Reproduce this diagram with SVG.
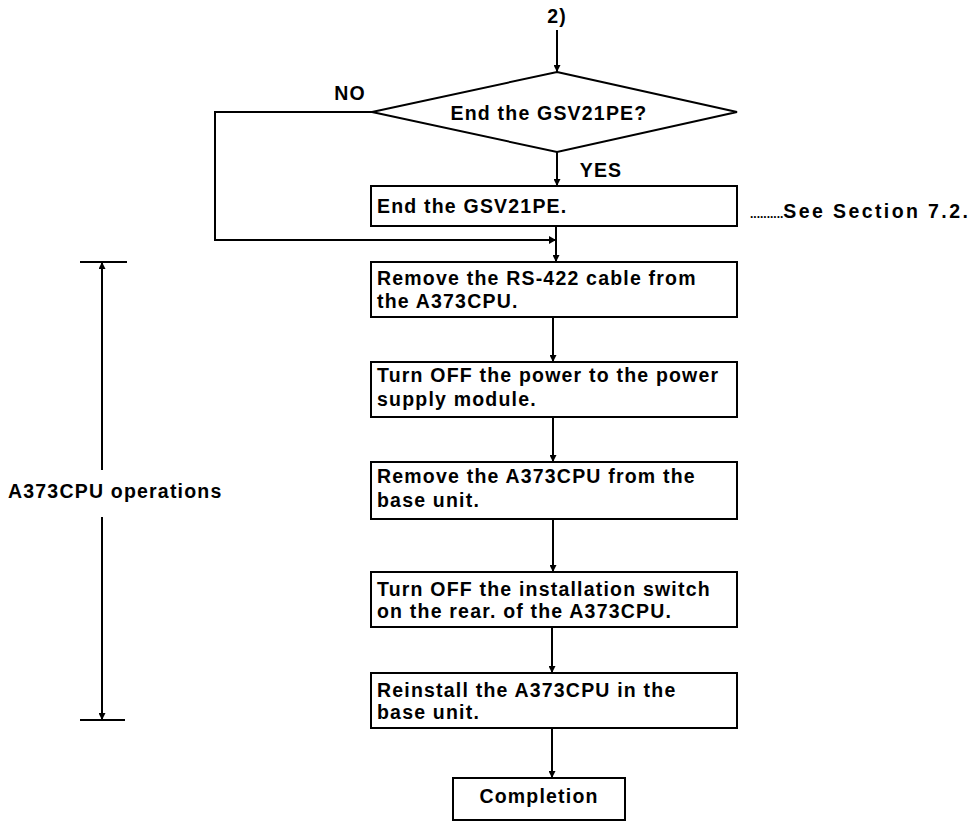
<svg xmlns="http://www.w3.org/2000/svg" width="979" height="822" viewBox="0 0 979 822">
  <defs>
    <marker id="arrow" viewBox="0 0 10 10" refX="10" refY="5" markerWidth="7" markerHeight="7" markerUnits="userSpaceOnUse" orient="auto">
      <path d="M0,0 L10,5 L0,10 z" fill="#000"/>
    </marker>
    <style>
      .box { fill: #fff; stroke: #000; stroke-width: 2; }
      .line { fill: none; stroke: #000; stroke-width: 2; }
      .arr { fill: none; stroke: #000; stroke-width: 2; marker-end: url(#arrow); }
      text { font-family: "Liberation Sans", Arial, sans-serif; font-size: 19.5px; font-weight: bold; letter-spacing: 1.2px; fill: #000; }
      .dots { font-size: 12px; letter-spacing: 0; }
    </style>
  </defs>
  <rect width="979" height="822" fill="#fff"/>

  <!-- connectors -->
  <g id="connectors">
    <line class="arr" x1="557" y1="30" x2="557" y2="72"/>
    <line class="arr" x1="557" y1="152" x2="557" y2="186"/>
    <polyline class="line" points="372,112 215,112 215,240 556,240"/>
    <line class="arr" x1="556" y1="226" x2="556" y2="262"/>
    <line class="arr" x1="553" y1="317" x2="553" y2="362"/>
    <line class="arr" x1="553" y1="417" x2="553" y2="462"/>
    <line class="arr" x1="553" y1="519" x2="553" y2="572"/>
    <line class="arr" x1="552" y1="627" x2="552" y2="673"/>
    <line class="arr" x1="552" y1="728" x2="552" y2="778"/>
    <path d="M549,236 L556,240 L549,244 z" fill="#000"/>
  </g>

  <!-- entry label -->
  <g id="entry">
    <text x="557" y="23" text-anchor="middle">2)</text>
  </g>

  <!-- decision -->
  <g id="decision">
    <polygon class="box" points="557,72 737,112 557,152 372,112"/>
    <text x="549" y="120" text-anchor="middle">End the GSV21PE?</text>
    <text x="350" y="100" text-anchor="middle">NO</text>
    <text x="601" y="177" text-anchor="middle">YES</text>
  </g>

  <g id="end-gsv">
    <rect class="box" x="371" y="186" width="366" height="40"/>
    <text x="377" y="213">End the GSV21PE.</text>
    <text x="750" y="218"><tspan class="dots">..........</tspan><tspan letter-spacing="2.4">See Section 7.2.</tspan></text>
  </g>

  <g id="remove-cable">
    <rect class="box" x="371" y="262" width="366" height="55"/>
    <text x="377" y="285">Remove the RS-422 cable from</text>
    <text x="377" y="308">the A373CPU.</text>
  </g>

  <g id="power-off">
    <rect class="box" x="371" y="362" width="366" height="55"/>
    <text x="377" y="382">Turn OFF the power to the power</text>
    <text x="377" y="406">supply module.</text>
  </g>

  <g id="remove-cpu">
    <rect class="box" x="371" y="462" width="366" height="57"/>
    <text x="377" y="483">Remove the A373CPU from the</text>
    <text x="377" y="507">base unit.</text>
  </g>

  <g id="switch-off">
    <rect class="box" x="371" y="572" width="366" height="55"/>
    <text x="377" y="596">Turn OFF the installation switch</text>
    <text x="377" y="618">on the rear. of the A373CPU.</text>
  </g>

  <g id="reinstall">
    <rect class="box" x="371" y="673" width="366" height="55"/>
    <text x="377" y="697">Reinstall the A373CPU in the</text>
    <text x="377" y="719">base unit.</text>
  </g>

  <g id="completion">
    <rect class="box" x="453" y="778" width="172" height="42"/>
    <text x="539" y="803" text-anchor="middle">Completion</text>
  </g>

  <!-- span marker for the CPU steps -->
  <g id="cpu-span">
    <line class="line" x1="80" y1="262" x2="127" y2="262"/>
    <line class="line" x1="80" y1="720" x2="125" y2="720"/>
    <line class="arr" x1="102" y1="470" x2="102" y2="262"/>
    <line class="arr" x1="102" y1="517" x2="102" y2="720"/>
    <text x="8" y="498" letter-spacing="1.6">A373CPU operations</text>
  </g>
</svg>
